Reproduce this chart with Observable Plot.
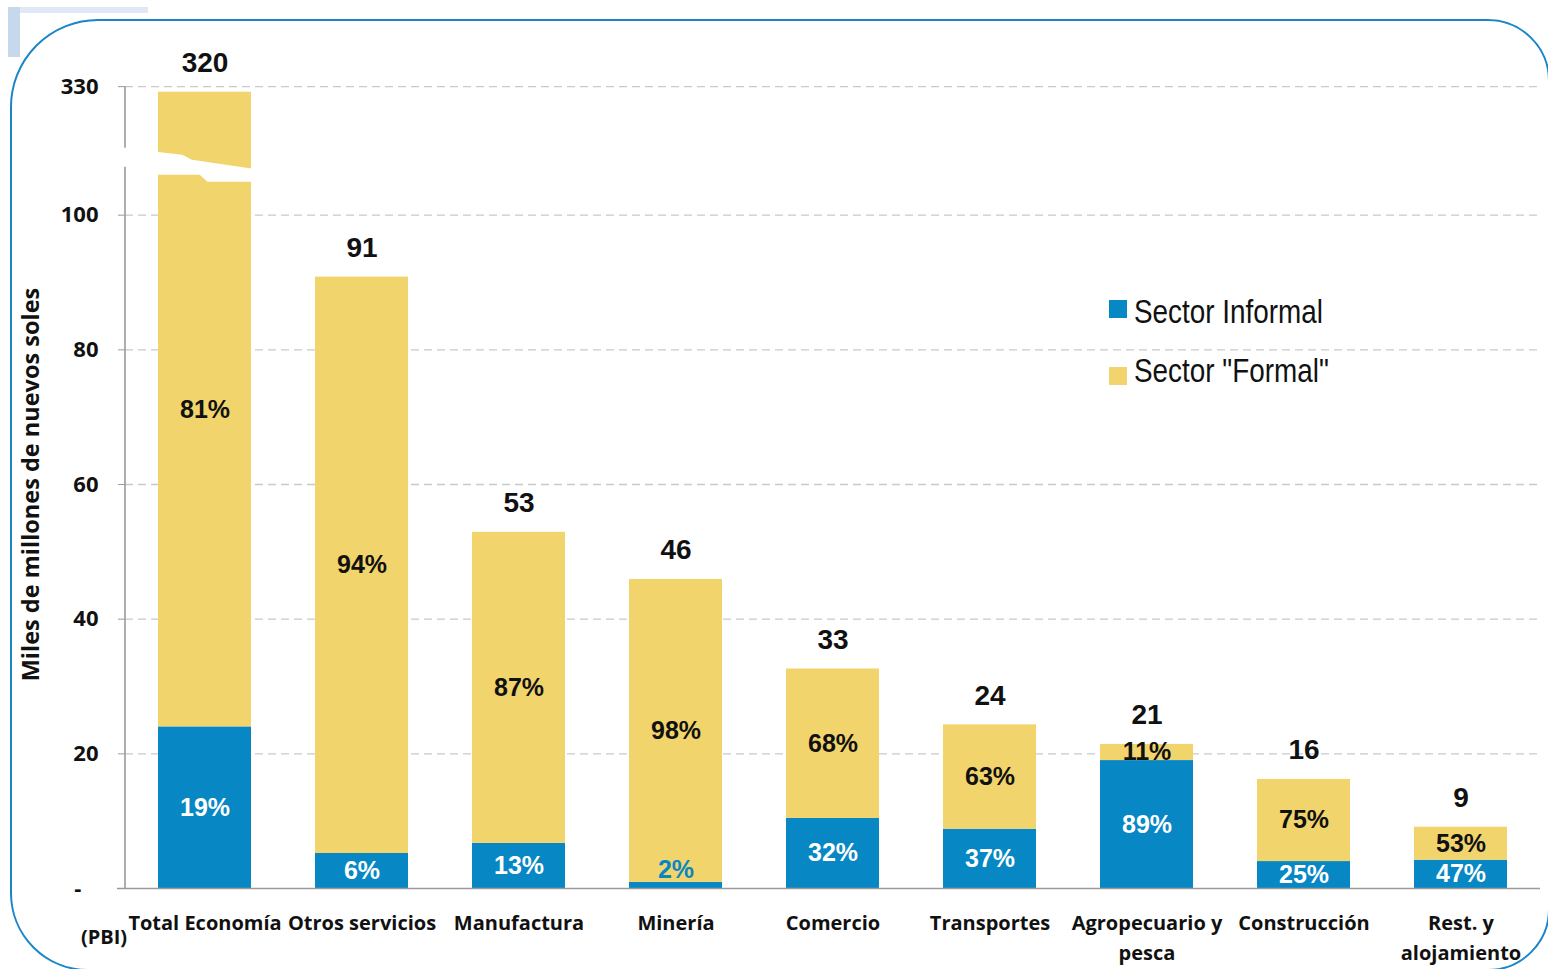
<!DOCTYPE html>
<html>
<head>
<meta charset="utf-8">
<script src="https://cdn.jsdelivr.net/npm/d3@7"></script>
<script src="https://cdn.jsdelivr.net/npm/@observablehq/plot@0.6"></script>
<style>
  html, body { margin: 0; padding: 0; background: #fff; overflow: hidden; }
  #wrap { position: relative; width: 1548px; height: 969px; }
  #wrap svg { position: absolute; left: 0; top: 0; }
  .deco1 { position: absolute; left: 8px; top: 7px; width: 12px; height: 50px; background: #c7d7ec; }
  .deco2 { position: absolute; left: 20px; top: 7px; width: 128px; height: 6px; background: #dfe8f4; }
  .frame { position: absolute; left: 10px; top: 19px; width: 1540px; height: 952px; box-sizing: border-box;
           border: 2.5px solid #1a86c8; border-radius: 88px 62px 62px 78px; pointer-events: none; }
</style>
</head>
<body>
<div id="wrap">
  <div class="deco1"></div>
  <div class="deco2"></div>
  <div class="frame"></div>
</div>
<script>
// ---- data ----
const categories = ["Total Economía", "Otros servicios", "Manufactura", "Minería", "Comercio",
                    "Transportes", "Agropecuario y\npesca", "Construcción", "Rest. y\nalojamiento"];
const totals   = [320, 90.8, 52.9, 45.9, 32.6, 24.3, 21.4, 16.2, 9.1];   // bar heights (miles de millones)
const informal = [24, 5.2, 6.7, 0.9, 10.4, 8.8, 19.0, 4.0, 4.2];         // informal segment heights as drawn
const pctInformal = [19, 6, 13, 2, 32, 37, 89, 25, 47];
const pctFormal   = [81, 94, 87, 98, 68, 63, 11, 75, 53];
const series = ["Sector Informal", "Sector \"Formal\""];
const colors = ["#0787c3", "#f1d46c"];
const yTicks = [0, 20, 40, 60, 80, 100, 330];
const yTickLabels = ["-\u00a0\u00a0\u00a0", "20", "40", "60", "80", "100", "330"];
const yTitle = "Miles de millones de nuevos soles";
const note = "(PBI)";

// broken axis: linear up to 100, compressed above
const BREAK = 100, K = 0.083;
const disp = v => v <= BREAK ? v : BREAK + (v - BREAK) * K;

const rows = categories.flatMap((c, i) => [
  {cat: c, series: series[0], y1: 0, y2: informal[i]},
  {cat: c, series: series[1], y1: informal[i], y2: disp(totals[i])}
]);
const idx = categories.map((c, i) => i);

const narrow = "'Liberation Sans', Arial, sans-serif";   // horizontally condensed below
const NARROW = 0.82;
const sans = "'Open Sans', 'Noto Sans', sans-serif";
const tickDisp = yTicks.map(disp);

const plot = Plot.plot({
  width: 1548, height: 969,
  marginLeft: 125, marginRight: 8, marginTop: 80, marginBottom: 81,
  style: {fontFamily: sans, fontSize: "22px", fontWeight: "bold", color: "#111", background: "transparent", overflow: "visible"},
  x: {domain: categories, paddingInner: 0.409, paddingOuter: 0.2, axis: null},
  y: {domain: [0, 120], ticks: tickDisp, tickFormat: d => yTickLabels[tickDisp.indexOf(d)],
      tickSize: 7, tickPadding: 20, label: null},
  color: {domain: series, range: colors},
  marks: [
    Plot.ruleY(tickDisp.slice(1), {stroke: "#c9c9c9", strokeWidth: 1.4, strokeDasharray: "8,5"}),
    Plot.barY(rows, {x: "cat", y1: "y1", y2: "y2", fill: "series"}),
    Plot.ruleY([0], {stroke: "#9a9a9a", strokeWidth: 1.6, insetLeft: -8}),
    // totals above bars
    Plot.text(idx, {x: i => categories[i], y: i => disp(totals[i]), text: i => d3.format(".0f")(totals[i]),
      dy: -29, fontFamily: narrow, fontSize: 28, fontWeight: "bold", fill: "#111", ariaLabel: "narrow"}),
    // formal share
    Plot.text(idx, {x: i => categories[i], y: i => (informal[i] + disp(totals[i])) / 2, text: i => pctFormal[i] + "%",
      fontFamily: narrow, fontSize: 25, fontWeight: "bold", fill: "#111", ariaLabel: "narrow"}),
    // informal share (inside)
    Plot.text(idx.filter(i => informal[i] >= 2), {x: i => categories[i], y: i => informal[i] / 2, text: i => pctInformal[i] + "%",
      fontFamily: narrow, fontSize: 25, fontWeight: "bold", fill: "#fff", ariaLabel: "narrow"}),
    // informal share (too thin: above segment)
    Plot.text(idx.filter(i => informal[i] < 2), {x: i => categories[i], y: i => informal[i], text: i => pctInformal[i] + "%",
      dy: -12, fontFamily: narrow, fontSize: 25, fontWeight: "bold", fill: colors[0], ariaLabel: "narrow"}),
    // category labels
    Plot.text(categories, {x: d => d, y: () => 0, text: d => d, lineAnchor: "top", lineHeight: 1.5, dy: 20,
      fontFamily: sans, fontSize: 20, fontWeight: "bold", fill: "#111"}),
    Plot.text([categories[0]], {x: d => d, y: () => 0, text: () => note, dx: -101, dy: 49,
      fontFamily: sans, fontSize: 20, fontWeight: "bold", fill: "#111"}),
    // y title
    Plot.text([yTitle], {frameAnchor: "left", text: d => d, rotate: -90, dx: -94, textAnchor: "middle",
      fontFamily: sans, fontSize: 23.5, fontWeight: "bold", fill: "#111"})
  ]
});

document.getElementById("wrap").prepend(plot);

// ---- post-processing ----
const svg = d3.select(plot);
svg.selectAll('[aria-label="y-axis tick"]').style("color", "#9a9a9a");

// condense the narrow-font labels horizontally (Arial Narrow look)
svg.selectAll('g[aria-label="narrow"] text').each(function () {
  const t = d3.select(this);
  const tr = t.attr("transform");
  if (tr) t.attr("transform", tr + ` scale(${NARROW},1)`);
  else {
    const x = +t.attr("x") || 0, y = +t.attr("y") || 0;
    t.attr("x", null).attr("y", null).attr("transform", `translate(${x},${y}) scale(${NARROW},1)`);
  }
});

const sx = plot.scale("x"), sy = plot.scale("y");
const xb = d3.scaleBand().domain(sx.domain).range(sx.range)
  .paddingInner(sx.paddingInner ?? 0.409).paddingOuter(sx.paddingOuter ?? 0.2).align(sx.align ?? 0.5);
if (sx.round) xb.round(true);
const yl = d3.scaleLinear().domain(sy.domain).range(sy.range);

// y axis line with break gap
const axisX = 125;
const yTop = yl(disp(yTicks[yTicks.length - 1]));
const breakY = yl(107.1);
const g = svg.append("g");
g.append("line").attr("x1", axisX).attr("x2", axisX).attr("y1", yl(0)).attr("y2", breakY)
  .attr("stroke", "#9a9a9a").attr("stroke-width", 1.6);
g.append("line").attr("x1", axisX).attr("x2", axisX).attr("y1", breakY - 19).attr("y2", yTop)
  .attr("stroke", "#9a9a9a").attr("stroke-width", 1.6);

// white break across the total bar
const bx0 = xb(categories[0]) - 2, bw = xb.bandwidth() + 4;
const pts = [
  [bx0, breakY - 15], [bx0 + bw * 0.27, breakY - 12], [bx0 + bw * 0.37, breakY - 7], [bx0 + bw, breakY + 2],
  [bx0 + bw, breakY + 15], [bx0 + bw * 0.53, breakY + 15], [bx0 + bw * 0.45, breakY + 8], [bx0, breakY + 8]
];
g.append("polygon").attr("points", pts.map(p => p.join(",")).join(" ")).attr("fill", "#fff");

// legend
const lg = svg.append("g").attr("transform", "translate(1109,0)");
const legendY = [300, 367], legendBase = [323, 382];
series.forEach((s, i) => {
  lg.append("rect").attr("x", 0).attr("y", legendY[i]).attr("width", 18).attr("height", 18).attr("fill", colors[i]);
  lg.append("text").attr("transform", `translate(25,${legendBase[i]}) scale(${NARROW},1)`).text(s)
    .attr("text-anchor", "start").attr("font-family", narrow).attr("font-size", 34)
    .attr("font-weight", "normal").attr("fill", "#111");
});
</script>
</body>
</html>
